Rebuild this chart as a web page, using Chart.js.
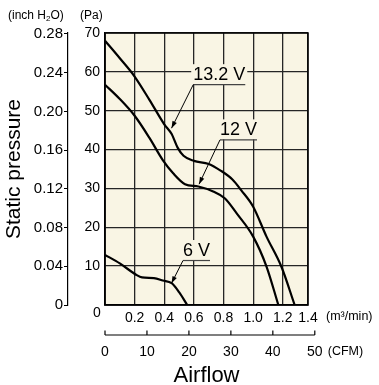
<!DOCTYPE html>
<html><head><meta charset="utf-8">
<script src="https://cdn.jsdelivr.net/npm/chart.js@4.4.1/dist/chart.umd.min.js"></script>
<style>html,body{margin:0;padding:0;background:#fff;}canvas{display:block;}</style>
</head><body>
<canvas id="c" width="379" height="385"></canvas>
<script>
// ---- data (airflow in m3/min, static pressure in Pa) ----
const airflow132 = [0, 0.1, 0.2, 0.3, 0.4, 0.45, 0.49, 0.53, 0.6, 0.7, 0.78, 0.86, 0.92, 1.0, 1.09, 1.19, 1.28];
const pressure132 = [68, 63.5, 58.8, 52.8, 46.5, 44, 40.5, 38.4, 37.1, 36.3, 34.6, 32.3, 29.5, 25.3, 17.6, 9.9, 0];
const airflow12 = [0, 0.1, 0.2, 0.3, 0.39, 0.46, 0.54, 0.63, 0.73, 0.81, 0.89, 1.0, 1.09, 1.17];
const pressure12 = [56.7, 53, 48.7, 43, 37.3, 33.9, 31.1, 30.5, 29.2, 27.4, 23.5, 17.6, 9.9, 0];
const airflow6 = [0, 0.1, 0.21, 0.25, 0.33, 0.39, 0.45, 0.5, 0.555];
const pressure6 = [12.9, 10.7, 7.8, 7.1, 6.9, 6.3, 5.6, 3.3, 0];
const seriesNames = ['13.2 V', '12 V', '6 V'];

// ---- tick values / labels ----
const paTicks = [0, 10, 20, 30, 40, 50, 60, 70];
const inchTicks = [0, 0.04, 0.08, 0.12, 0.16, 0.20, 0.24, 0.28];
const inchTickLabels = ['0', '0.04', '0.08', '0.12', '0.16', '0.20', '0.24', '0.28'];
const m3Ticks = [0, 0.2, 0.4, 0.6, 0.8, 1.0, 1.2, 1.37];
const m3TickLabels = ['', '0.2', '0.4', '0.6', '0.8', '1.0', '1.2', '1.4'];
const cfmTicks = [0, 10, 20, 30, 40, 50];
const PA_PER_INCH = 249.089;
const CFM_PER_M3 = 35.3147;

// ---- callout placement (data units) ----
const callouts = [
  {series: 0, at: [0.771, 59.4], tip: [0.449, 45.5]},
  {series: 1, at: [0.901, 45.2], tip: [0.635, 31.1]},
  {series: 2, at: [0.6175, 14.15], tip: [0.449, 5.6]}
];

const FONT = "'Liberation Sans', Arial, Helvetica, sans-serif";
const BG = '#f9f5e4';
const GRID = '#252525';

const zip = (xs, ys) => xs.map((x, i) => ({x, y: ys[i]}));

const deco = {
  id: 'deco',
  beforeDraw(chart) {
    const {ctx, chartArea: a} = chart;
    ctx.save();
    ctx.fillStyle = BG;
    ctx.fillRect(a.left, a.top, a.right - a.left, a.bottom - a.top);
    ctx.restore();
  },
  beforeDatasetsDraw(chart) {
    const {ctx, chartArea: a} = chart;
    ctx.save();
    ctx.strokeStyle = '#000';
    ctx.lineWidth = 1.5;
    ctx.strokeRect(a.left, a.top, a.right - a.left, a.bottom - a.top);
    ctx.restore();
  },
  afterDatasetsDraw(chart) {
    const {ctx} = chart;
    const xs = chart.scales.x, ys = chart.scales.y;
    ctx.save();
    ctx.font = '18px ' + FONT;
    callouts.forEach(c => {
      const txt = seriesNames[c.series];
      const cx = xs.getPixelForValue(c.at[0]);
      const cy = ys.getPixelForValue(c.at[1]);
      const w = ctx.measureText(txt).width;
      const l = cx - w / 2;
      ctx.fillStyle = BG;
      ctx.fillRect(l - 2, cy - 10, w + 4, 20);
      ctx.fillStyle = '#000';
      ctx.textAlign = 'center';
      ctx.textBaseline = 'middle';
      ctx.fillText(txt, cx, cy + 1);
      const uy = cy + 10.5;
      ctx.strokeStyle = '#444';
      ctx.lineWidth = 1.2;
      ctx.beginPath();
      ctx.moveTo(l, uy); ctx.lineTo(l + w, uy); ctx.stroke();
      const tx = xs.getPixelForValue(c.tip[0]);
      const ty = ys.getPixelForValue(c.tip[1]);
      ctx.strokeStyle = '#000';
      ctx.lineWidth = 1;
      ctx.beginPath();
      ctx.moveTo(l, uy); ctx.lineTo(tx, ty); ctx.stroke();
      const ang = Math.atan2(ty - uy, tx - l);
      const L = 7, H = 2.4;
      ctx.fillStyle = '#000';
      ctx.beginPath();
      ctx.moveTo(tx, ty);
      ctx.lineTo(tx - L * Math.cos(ang) + H * Math.sin(ang), ty - L * Math.sin(ang) - H * Math.cos(ang));
      ctx.lineTo(tx - L * Math.cos(ang) - H * Math.sin(ang), ty - L * Math.sin(ang) + H * Math.cos(ang));
      ctx.closePath(); ctx.fill();
    });
    ctx.restore();
  },
  afterDraw(chart) {
    const {ctx, chartArea: a} = chart;
    const xs = chart.scales.x;
    ctx.save();
    ctx.fillStyle = '#000';
    // header units
    ctx.font = '12px ' + FONT;
    ctx.textBaseline = 'middle';
    ctx.textAlign = 'left';
    let hx = 8;
    const hy = 16;
    ctx.fillText('(inch H', hx, hy);
    hx += ctx.measureText('(inch H').width;
    ctx.font = '8px ' + FONT;
    ctx.fillText('2', hx, hy + 2.5);
    hx += ctx.measureText('2').width;
    ctx.font = '12px ' + FONT;
    ctx.fillText('O)', hx, hy);
    ctx.fillText('(Pa)', 80, hy);
    // shared origin label
    ctx.font = '14px ' + FONT;
    ctx.textAlign = 'center';
    ctx.fillText('0', a.left - 8, a.bottom + 8);
    // m3/min unit
    ctx.font = '12.5px ' + FONT;
    ctx.textAlign = 'left';
    ctx.fillText('(m\u00B3/min)', 326, a.bottom + 12);
    // CFM axis
    const ly = a.bottom + 30;
    const x0 = xs.getPixelForValue(cfmTicks[0] / CFM_PER_M3);
    const x1 = xs.getPixelForValue(cfmTicks[cfmTicks.length - 1] / CFM_PER_M3);
    ctx.strokeStyle = '#000';
    ctx.lineWidth = 1.2;
    ctx.beginPath();
    ctx.moveTo(x0, ly); ctx.lineTo(x1, ly);
    cfmTicks.forEach(t => {
      const px = xs.getPixelForValue(t / CFM_PER_M3);
      ctx.moveTo(px, ly); ctx.lineTo(px, ly - 4.5);
    });
    ctx.stroke();
    ctx.font = '14px ' + FONT;
    ctx.textAlign = 'center';
    cfmTicks.forEach(t => {
      const px = xs.getPixelForValue(t / CFM_PER_M3);
      ctx.fillText(String(t), px, ly + 17);
    });
    ctx.font = '12.5px ' + FONT;
    ctx.textAlign = 'left';
    ctx.fillText('(CFM)', x1 + 13, ly + 17);
    ctx.restore();
  }
};

const lineStyle = {xAxisID: 'x', yAxisID: 'y', borderColor: '#000', borderWidth: 2.2, pointRadius: 0, fill: false, cubicInterpolationMode: 'monotone'};

new Chart(document.getElementById('c'), {
  type: 'line',
  data: {
    datasets: [
      Object.assign({label: seriesNames[0], data: zip(airflow132, pressure132)}, lineStyle),
      Object.assign({label: seriesNames[1], data: zip(airflow12, pressure12)}, lineStyle),
      Object.assign({label: seriesNames[2], data: zip(airflow6, pressure6)}, lineStyle)
    ]
  },
  options: {
    responsive: false,
    animation: false,
    devicePixelRatio: 1,
    layout: {padding: {left: 0, right: 71, top: 33, bottom: 0}},
    plugins: {legend: {display: false}, tooltip: {enabled: false}},
    scales: {
      x: {
        type: 'linear', position: 'bottom', min: 0, max: m3Ticks[m3Ticks.length - 1],
        afterBuildTicks: s => { s.ticks = m3Ticks.map(v => ({value: v})); },
        afterFit: s => { s.height = 80; },
        grid: {color: GRID, lineWidth: 1.3, drawTicks: false},
        border: {display: true, color: '#000', width: 1.5},
        ticks: {padding: 5, color: '#000', font: {family: FONT, size: 14}, maxRotation: 0, autoSkip: false,
          callback: (v, i) => m3TickLabels[i]},
        title: {display: true, text: 'Airflow', color: '#000', font: {family: FONT, size: 22, lineHeight: 0.9}, padding: {top: 0, bottom: -1}}
      },
      y: {
        type: 'linear', position: 'left', weight: 0, min: 0, max: paTicks[paTicks.length - 1],
        afterBuildTicks: s => { s.ticks = paTicks.map(v => ({value: v})); },
        afterFit: s => { s.width = 37; },
        grid: {color: GRID, lineWidth: 1.3, drawTicks: false},
        border: {display: true, color: '#000', width: 1.5},
        ticks: {padding: 5, color: '#000', font: {family: FONT, size: 14}, autoSkip: false,
          callback: v => (v === 0 ? '' : String(v))}
      },
      yin: {
        type: 'linear', position: 'left', weight: 1, min: 0, max: paTicks[paTicks.length - 1] / PA_PER_INCH,
        afterBuildTicks: s => { s.ticks = inchTicks.map(v => ({value: v})); },
        afterFit: s => { s.width = 68; },
        grid: {drawOnChartArea: false, drawTicks: true, tickLength: 4, color: '#000', lineWidth: 1},
        border: {display: true, color: '#000', width: 1.2},
        ticks: {padding: 1, color: '#000', font: {family: FONT, size: 15}, autoSkip: false,
          callback: (v, i) => inchTickLabels[i]},
        title: {display: true, text: 'Static pressure', color: '#000', font: {family: FONT, size: 21}, padding: {top: 1.5, bottom: 0}}
      }
    }
  },
  plugins: [deco]
});
</script>
</body></html>
